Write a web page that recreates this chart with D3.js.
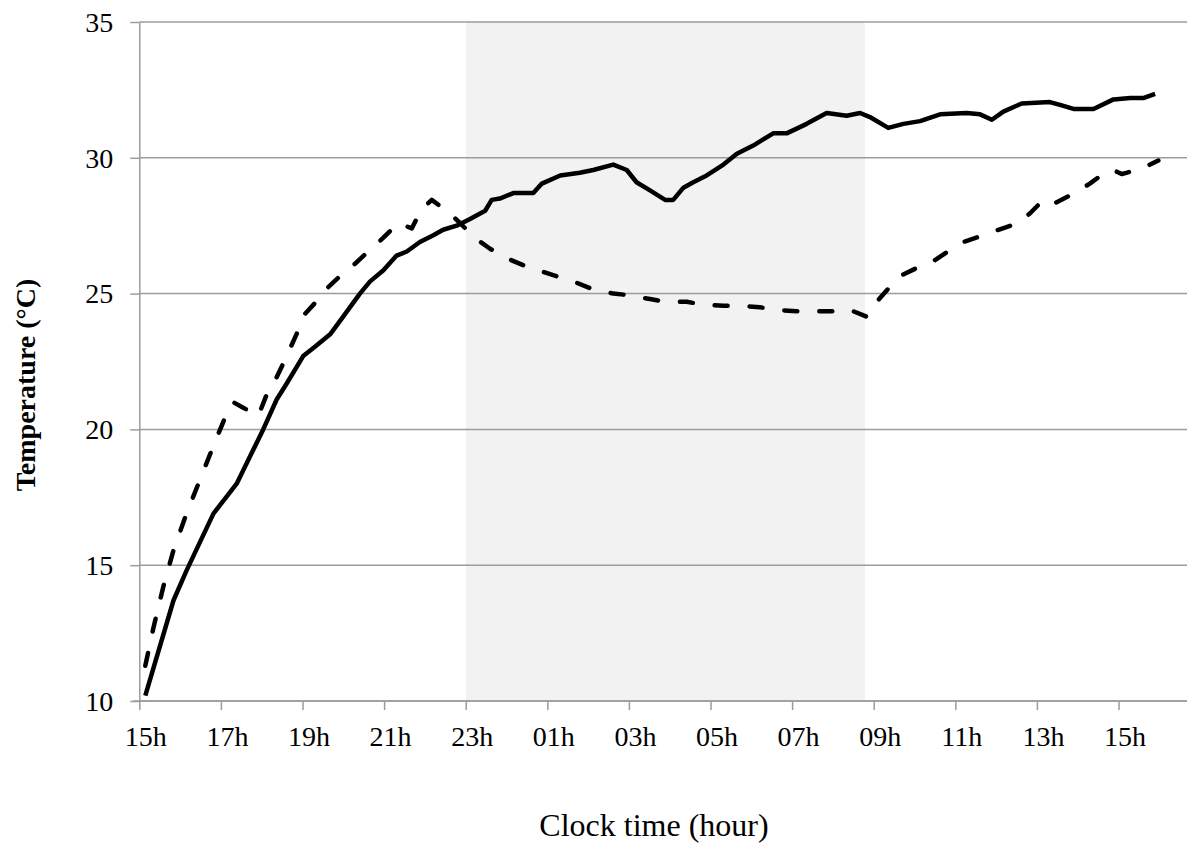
<!DOCTYPE html>
<html>
<head>
<meta charset="utf-8">
<title>Temperature vs clock time</title>
<script src="https://d3js.org/d3.v7.min.js"></script>
<style>
    body { margin: 0; background: #fff; }
    .tick-label { font-family: 'Liberation Serif', 'Times New Roman', serif; font-size: 28px; fill: #000; }
    .axis-title { font-family: 'Liberation Serif', 'Times New Roman', serif; fill: #000; }
</style>
</head>
<body>
<svg id="chart" width="1187" height="846"></svg>
<script>
// hours after 15:00 and temperature (°C)
const solidHours = [0.00, 0.69, 1.01, 1.67, 2.24, 2.89, 3.22, 3.47, 3.87, 4.12, 4.53, 4.85, 5.26, 5.51, 5.83, 6.16, 6.41, 6.73, 7.06, 7.30, 7.63, 7.96, 8.33, 8.49, 8.69, 9.02, 9.51, 9.72, 10.17, 10.65, 10.98, 11.47, 11.80, 12.04, 12.37, 12.74, 12.94, 13.19, 13.43, 13.76, 14.17, 14.50, 14.90, 15.39, 15.72, 16.21, 16.70, 17.19, 17.52, 17.76, 18.21, 18.58, 18.99, 19.48, 20.13, 20.46, 20.75, 21.03, 21.48, 22.17, 22.42, 22.75, 23.24, 23.73, 24.14, 24.46, 24.75];
const solidTemp = [10.2, 13.7, 14.8, 16.9, 18.0, 20.0, 21.1, 21.7, 22.7, 23.0, 23.5, 24.15, 25.0, 25.45, 25.85, 26.4, 26.55, 26.9, 27.15, 27.35, 27.5, 27.75, 28.05, 28.45, 28.5, 28.7, 28.7, 29.05, 29.35, 29.45, 29.55, 29.75, 29.55, 29.1, 28.8, 28.45, 28.45, 28.9, 29.1, 29.35, 29.75, 30.15, 30.45, 30.9, 30.9, 31.25, 31.65, 31.55, 31.65, 31.5, 31.1, 31.25, 31.35, 31.6, 31.65, 31.6, 31.4, 31.7, 32.0, 32.05, 31.95, 31.8, 31.8, 32.15, 32.2, 32.2, 32.35];

const dashHours = [0.00, 0.20, 0.44, 0.69, 1.01, 1.34, 1.71, 2.00, 2.16, 2.40, 2.77, 2.98, 3.18, 3.42, 3.75, 3.91, 4.28, 4.49, 4.85, 5.14, 5.50, 5.83, 6.20, 6.53, 6.77, 7.02, 7.47, 7.71, 8.08, 8.45, 8.86, 9.26, 9.75, 10.16, 10.57, 10.98, 11.47, 11.80, 12.37, 12.74, 13.27, 13.64, 14.17, 14.58, 15.06, 15.48, 15.97, 16.37, 16.86, 17.27, 17.68, 17.93, 18.25, 18.50, 18.99, 19.27, 19.72, 20.05, 20.54, 20.91, 21.40, 21.68, 22.01, 22.25, 22.78, 23.15, 23.56, 23.73, 23.93, 24.42, 24.83];
const dashTemp = [11.3, 12.7, 14.2, 15.55, 16.9, 18.15, 19.55, 20.6, 21.0, 20.8, 20.5, 21.3, 21.8, 22.55, 23.65, 24.25, 24.85, 25.25, 25.75, 26.1, 26.6, 27.05, 27.6, 27.4, 28.1, 28.45, 27.95, 27.6, 27.05, 26.65, 26.3, 26.05, 25.8, 25.6, 25.4, 25.15, 25.0, 24.95, 24.8, 24.7, 24.7, 24.6, 24.55, 24.55, 24.5, 24.4, 24.35, 24.35, 24.35, 24.4, 24.15, 24.7, 25.25, 25.65, 26.0, 26.15, 26.6, 26.9, 27.15, 27.35, 27.6, 27.95, 28.45, 28.3, 28.7, 29.05, 29.5, 29.55, 29.4, 29.6, 29.9];

const tickHours = [0, 2, 4, 6, 8, 10, 12, 14, 16, 18, 20, 22, 24];
const tempTicks = [10, 15, 20, 25, 30, 35];
const nightBand = [7.86, 17.64];

const svg = d3.select("#chart");
const plotLeft = 139.3, plotRight = 1187, plotTop = 22, plotBottom = 701;
const gridColor = "#9c9c9c";

const x = d3.scaleLinear().domain([0, 24]).range([145.3, 1124.5]);
const y = d3.scaleLinear().domain([10, 35]).range([plotBottom, plotTop]);

// night shading
svg.append("rect")
    .attr("x", x(nightBand[0]))
    .attr("y", plotTop)
    .attr("width", x(nightBand[1]) - x(nightBand[0]))
    .attr("height", plotBottom - plotTop)
    .attr("fill", "#f2f2f2");

// horizontal gridlines
svg.append("g").selectAll("line")
    .data(tempTicks)
    .enter().append("line")
    .attr("x1", plotLeft).attr("x2", plotRight)
    .attr("y1", d => y(d)).attr("y2", d => y(d))
    .attr("stroke", gridColor).attr("stroke-width", 1.5);

// y axis
const yAxis = svg.append("g")
    .attr("transform", `translate(${plotLeft},0)`)
    .call(d3.axisLeft(y).tickValues(tempTicks).tickSize(9).tickSizeOuter(0).tickFormat(d3.format("d")));
yAxis.select(".domain").attr("stroke", gridColor).attr("stroke-width", 1.5);
yAxis.selectAll(".tick line").attr("stroke", gridColor).attr("stroke-width", 1.5);
yAxis.selectAll(".tick text")
    .attr("class", "tick-label")
    .attr("x", -26)
    .attr("dy", "0.33em")
    .attr("font-size", null).attr("font-family", null);

// x axis (ticks sit between categories, labels on the category)
const xAxis = svg.append("g")
    .attr("transform", `translate(0,${plotBottom})`)
    .call(d3.axisBottom(x).tickValues(tickHours).tickSize(9).tickSizeOuter(0)
        .tickFormat(h => String((15 + h) % 24).padStart(2, "0") + "h"));
xAxis.select(".domain").remove();
xAxis.selectAll(".tick line").attr("x1", -6).attr("x2", -6).attr("stroke", gridColor).attr("stroke-width", 1.5);
xAxis.selectAll(".tick text")
    .attr("class", "tick-label")
    .attr("y", 45)
    .attr("dy", 0)
    .attr("font-size", null).attr("font-family", null);
svg.append("line")
    .attr("x1", plotLeft - 6).attr("x2", plotRight)
    .attr("y1", plotBottom).attr("y2", plotBottom)
    .attr("stroke", gridColor).attr("stroke-width", 1.5);

// series
const line = d3.line().x(d => x(d[0])).y(d => y(d[1]));

svg.append("path")
    .datum(dashHours.map((h, i) => [h, dashTemp[i]]))
    .attr("d", line)
    .attr("fill", "none")
    .attr("stroke", "#000")
    .attr("stroke-width", 4.5)
    .attr("stroke-linecap", "round")
    .attr("stroke-linejoin", "round")
    .attr("stroke-dasharray", "13,22");

svg.append("path")
    .datum(solidHours.map((h, i) => [h, solidTemp[i]]))
    .attr("d", line)
    .attr("fill", "none")
    .attr("stroke", "#000")
    .attr("stroke-width", 4.5)
    .attr("stroke-linejoin", "round");

// axis titles
svg.append("text")
    .attr("class", "axis-title")
    .attr("x", 654).attr("y", 836)
    .attr("text-anchor", "middle")
    .attr("font-size", 32)
    .text("Clock time (hour)");

svg.append("text")
    .attr("class", "axis-title")
    .attr("transform", "translate(35,385) rotate(-90)")
    .attr("text-anchor", "middle")
    .attr("font-size", 28)
    .attr("font-weight", "bold")
    .text("Temperature (°C)");
</script>
</body>
</html>
